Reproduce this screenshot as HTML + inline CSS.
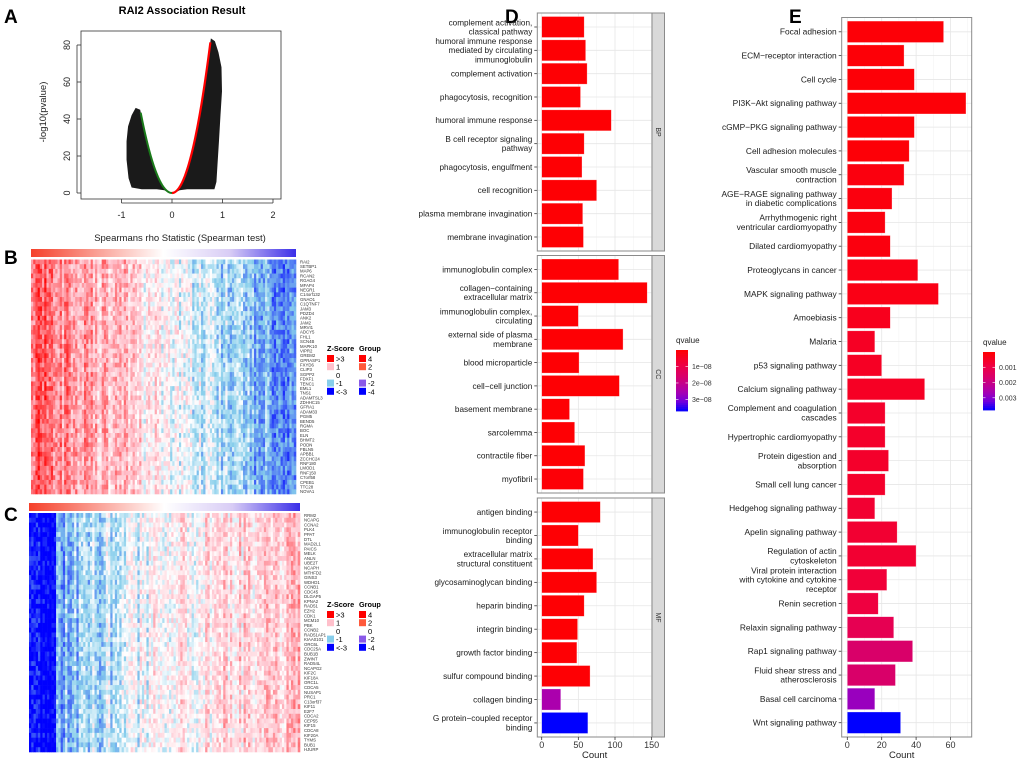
<!DOCTYPE html>
<html><head><meta charset="utf-8">
<style>
html,body{margin:0;padding:0;background:#fff;}
svg{display:block;font-family:"Liberation Sans",sans-serif;}
</style></head>
<body>
<svg id="fig" width="1020" height="761" viewBox="0 0 1020 761" xmlns="http://www.w3.org/2000/svg">
<g id="panelA">
  <text x="4" y="23" font-size="19" font-weight="bold">A</text>
  <text x="182" y="14" font-size="11" font-weight="bold" text-anchor="middle">RAI2 Association Result</text>
  <rect x="81" y="31" width="200" height="168" fill="none" stroke="#333" stroke-width="0.8"/>
  <g id="volcano"></g>
  <g id="volcanoAxes" font-size="9" fill="#222"></g>
  <text x="180" y="241" font-size="9.5" text-anchor="middle" fill="#222">Spearmans rho Statistic (Spearman test)</text>
  <text transform="translate(46,112) rotate(-90)" font-size="9.5" text-anchor="middle" fill="#222">-log10(pvalue)</text>
</g>
<g id="panelB">
  <text x="4" y="264" font-size="19" font-weight="bold">B</text>
</g>
<g id="panelC">
  <text x="4" y="521" font-size="19" font-weight="bold">C</text>
</g>
<g id="panelD">
  <text x="505" y="23" font-size="19" font-weight="bold">D</text>
</g>
<g id="panelE">
  <text x="789" y="23" font-size="19" font-weight="bold">E</text>
</g>
</svg>
<script>
var NS='http://www.w3.org/2000/svg';
// ---- Panel D data ----
var bpTerms=["complement activation,\nclassical pathway","humoral immune response\nmediated by circulating\nimmunoglobulin","complement activation","phagocytosis, recognition","humoral immune response","B cell receptor signaling\npathway","phagocytosis, engulfment","cell recognition","plasma membrane invagination","membrane invagination"];
var bpCounts=[58,60,62,53,95,58,55,75,56,57];
var bpQ=[0.05e-8,0.05e-8,0.05e-8,0.05e-8,0.05e-8,0.05e-8,0.05e-8,0.05e-8,0.05e-8,0.05e-8];
var ccTerms=["immunoglobulin complex","collagen\u2212containing\nextracellular matrix","immunoglobulin complex,\ncirculating","external side of plasma\nmembrane","blood microparticle","cell\u2212cell junction","basement membrane","sarcolemma","contractile fiber","myofibril"];
var ccCounts=[105,144,50,111,51,106,38,45,59,57];
var ccQ=[0.05e-8,0.05e-8,0.05e-8,0.05e-8,0.05e-8,0.05e-8,0.05e-8,0.05e-8,0.05e-8,0.1e-8];
var mfTerms=["antigen binding","immunoglobulin receptor\nbinding","extracellular matrix\nstructural constituent","glycosaminoglycan binding","heparin binding","integrin binding","growth factor binding","sulfur compound binding","collagen binding","G protein\u2212coupled receptor\nbinding"];
var mfCounts=[80,50,70,75,58,49,48,66,26,63];
var mfQ=[0.05e-8,0.05e-8,0.05e-8,0.05e-8,0.05e-8,0.05e-8,0.05e-8,0.05e-8,2.5e-8,3.7e-8];
var dTicks=[0,50,100,150];
var dLegendTicks=[1e-8,2e-8,3e-8];
var dLegendLabels=["1e\u221208","2e\u221208","3e\u221208"];
// ---- Panel E data ----
var keggTerms=["Focal adhesion","ECM\u2212receptor interaction","Cell cycle","PI3K\u2212Akt signaling pathway","cGMP\u2212PKG signaling pathway","Cell adhesion molecules","Vascular smooth muscle\ncontraction","AGE\u2212RAGE signaling pathway\nin diabetic complications","Arrhythmogenic right\nventricular cardiomyopathy","Dilated cardiomyopathy","Proteoglycans in cancer","MAPK signaling pathway","Amoebiasis","Malaria","p53 signaling pathway","Calcium signaling pathway","Complement and coagulation\ncascades","Hypertrophic cardiomyopathy","Protein digestion and\nabsorption","Small cell lung cancer","Hedgehog signaling pathway","Apelin signaling pathway","Regulation of actin\ncytoskeleton","Viral protein interaction\nwith cytokine and cytokine\nreceptor","Renin secretion","Relaxin signaling pathway","Rap1 signaling pathway","Fluid shear stress and\natherosclerosis","Basal cell carcinoma","Wnt signaling pathway"];
var keggCounts=[56,33,39,69,39,36,33,26,22,25,41,53,25,16,20,45,22,22,24,22,16,29,40,23,18,27,38,28,16,31];
var keggQ=[0.0001,0.0001,0.0001,0.0001,0.0001,0.0001,0.0002,0.0002,0.0002,0.0002,0.0003,0.0003,0.0004,0.0005,0.0005,0.0005,0.0006,0.0006,0.0006,0.0006,0.0007,0.0007,0.0007,0.0008,0.0009,0.0012,0.0016,0.0016,0.0028,0.0038];
var eTicks=[0,20,40,60];
var eLegendTicks=[0.001,0.002,0.003];
var eLegendLabels=["0.001","0.002","0.003"];
// ---- Panel B / C gene labels ----
var genesB=["RAI2","SETBP1","MAP6","RCAN2","RGAG4","MFAP4","NEGR1","C14orf132","GNAO1","C1QTNF7","JAM3","PDZD4","ANK2","JAM2","MRVI1","ADCY5","FHL1","SCN4B","MAPK10","VIPR2","GREM2","GPRASP1","FXYD6","CLIP3","SGPP2","FDXF1","TENC1","EML1","TNS1","ADAMTSL3","ZDHHC15","GFRA1","ADAM33","PGM5","BEND5","RGMA","BOC","ELN","BHMT2","PODN","FBLN5","APBB1","ZCCHC24","RNF180","LMOD1","RNF150","C7orf58","CPEB1","TTC28","NOVA1"];
var genesC=["RRM2","NCAPG","CCNA2","PLK4","PPAT","DTL","MAD2L1","PAICS","MELK","ANLN","UBE2T","NCAPH","MTHFD2","GINS3","WDHD1","CCNB1","CDC45","DLGAP5","KPNA2","RAD51","EZH2","CDK1","MCM10","PBK","CCNB2","RAD51AP1","KIAA0101","ORC6L","CDC25A","BUB1B","ZWINT","RAD54L","NCAPG2","KIF2C","KIF18A","ORC1L","CDCA5","NUSAP1","PRC1","C13orf37","KIF11","E2F7","CDCA2","CEP55","KIF15","CDCA8","KIF20A","TYMS","BUB1","HJURP"];

function el(tag,attrs,parent,txt){var e=document.createElementNS(NS,tag);for(var k in attrs)e.setAttribute(k,attrs[k]);if(txt!==undefined)e.textContent=txt;parent.appendChild(e);return e;}
function hex(c){return [parseInt(c.substr(1,2),16),parseInt(c.substr(3,2),16),parseInt(c.substr(5,2),16)];}
function mix(a,b,t){var A=hex(a),B=hex(b);return 'rgb('+Math.round(A[0]+(B[0]-A[0])*t)+','+Math.round(A[1]+(B[1]-A[1])*t)+','+Math.round(A[2]+(B[2]-A[2])*t)+')';}
var qStops=[[0,'#ff0000'],[0.25,'#ee0044'],[0.45,'#d6006f'],[0.7,'#a600b4'],[0.85,'#7000dc'],[1,'#0000ff']];
function qColor(t){t=Math.max(0,Math.min(1,t));for(var i=1;i<qStops.length;i++){if(t<=qStops[i][0]){var a=qStops[i-1],b=qStops[i];return mix(a[1],b[1],(t-a[0])/(b[0]-a[0]));}}return '#0000ff';}

// ---- Volcano ----
(function(){
  var g=document.getElementById('volcano'),ax=document.getElementById('volcanoAxes');
  function X(v){return 172+v*50.5;} function Y(v){return 193-v*1.85;}
  var right=[[0.05,0],[0.2,5.6],[0.4,22.6],[0.6,50.8],[0.77,83.6],[0.85,82],[0.92,76],[0.98,68],[0.99,55],[0.96,42],[0.93,28],[0.9,15],[0.88,6],[0.84,2],[0.6,2],[0.3,2],[0.15,1.5]];
  var left=[[-0.05,0],[-0.2,4.5],[-0.4,18],[-0.55,34],[-0.63,45],[-0.72,46],[-0.8,42],[-0.87,36],[-0.9,28],[-0.9,18],[-0.86,8],[-0.8,3],[-0.6,2],[-0.3,2],[-0.15,1.5]];
  [right,left].forEach(function(p,i){
    var s=el('polygon',{points:p.map(function(q){return X(q[0])+','+Y(q[1]);}).join(' '),fill:'#1a1a1a'},g);
    
    
  });
  var dr='',dg='';
  for(var v=0;v<=0.77;v+=0.02){dr+=(dr?'L':'M')+X(v)+','+Y(v*v*141);}
  for(var w=0;w>=-0.63;w-=0.02){dg+=(dg?'L':'M')+X(w)+','+Y(w*w*113);}
  var r=el('path',{d:dr,stroke:'#ff0000','stroke-width':2.2,fill:'none'},g);
  
  
  var gg=el('path',{d:dg,stroke:'#1a7a1a','stroke-width':2,fill:'none'},g);
  
  
  [-1,0,1,2].forEach(function(t){
    el('line',{x1:X(t),x2:X(t),y1:199,y2:203,stroke:'#333','stroke-width':0.8},ax);
    var tx=el('text',{x:X(t),y:218,'text-anchor':'middle'},ax,String(t));
    
    
  });
  el('line',{x1:X(-1),x2:X(2),y1:203,y2:203,stroke:'#333','stroke-width':0.8},ax);
  [0,20,40,60,80].forEach(function(t){
    el('line',{x1:77,x2:81,y1:Y(t),y2:Y(t),stroke:'#333','stroke-width':0.8},ax);
    var tx=el('text',{transform:'translate(70,'+Y(t)+') rotate(-90)','text-anchor':'middle'},ax,String(t));
    
    
  });
  el('line',{x1:77,x2:77,y1:Y(0),y2:Y(80),stroke:'#333','stroke-width':0.8},ax);
})();

// ---- Heatmaps ----
function hash(a,b,s){var h=(a*374761393+b*668265263+s*2147483647)|0;h=(h^(h>>>13))*1274126177|0;h=h^(h>>>16);return ((h>>>0)%10000)/10000;}
function zColor(z){
  if(z>=0){ if(z<1) return mix('#ffffff','#ffc0cb',z); return mix('#ffc0cb','#ff0000',Math.min(1,(z-1)/2)); }
  z=-z; if(z<1) return mix('#ffffff','#87ceeb',z); return mix('#87ceeb','#0000ff',Math.min(1,(z-1)/2));
}
function heatmap(parentId,x0,x1,barY,y0,y1,genes,profile,seed,legY,nameKey){
  var p=document.getElementById(parentId);
  var grad=el('linearGradient',{id:'grp'+seed,x1:0,x2:1,y1:0,y2:0},p);
  el('stop',{offset:'0',  'stop-color':'#f5402a'},grad);
  el('stop',{offset:'0.5','stop-color':'#ffffff'},grad);
  el('stop',{offset:'0.75','stop-color':'#d8ccf5'},grad);
  el('stop',{offset:'1','stop-color':'#3a2ee8'},grad);
  var gb=el('rect',{x:x0,y:barY,width:x1-x0,height:8,fill:'url(#grp'+seed+')'},p);
  
  
  var cells=el('g',{},p);
  
  
  var nc=120,nr=genes.length,cw=(x1-x0)/nc,rh=(y1-y0)/nr;
  for(var c=0;c<nc;c++){
    var base=profile(c/(nc-1));
    var colOff=(hash(c,999,seed)-0.5)*1.6;
    for(var r=0;r<nr;r++){
      var z=base+colOff*0.7+(hash(c,r,seed)-0.5)*1.3;
      el('rect',{x:(x0+c*cw).toFixed(2),y:(y0+r*rh).toFixed(2),width:(cw+0.3).toFixed(2),height:(rh+0.3).toFixed(2),fill:zColor(z)},cells);
    }
  }
  var lab=el('g',{'font-size':4.3,fill:'#333'},p);
  
  
  genes.forEach(function(gn,i){
    var t=el('text',{x:x1+4,y:(y0+(i+0.5)*rh+1.5).toFixed(2)},lab,gn);
    
    
  });
  var lg=el('g',{'font-size':7.5},p);
  
  
  el('text',{x:327,y:legY,'font-weight':'bold','font-size':7.3},lg,'Z-Score');
  el('text',{x:359,y:legY,'font-weight':'bold','font-size':7.3},lg,'Group');
  var zc=['#ff0000','#ffc0cb',null,'#87ceeb','#0000ff'],zl=['>3','1','0','-1','<-3'];
  var gc=['#ff0000','#ff5a3c',null,'#8a5ae8','#0000ff'],gl=['4','2','0','-2','-4'];
  for(var i=0;i<5;i++){
    var yy=legY+4+i*8.2;
    if(zc[i])el('rect',{x:327,y:yy,width:7,height:7,fill:zc[i]},lg);
    el('text',{x:336,y:yy+6.5},lg,zl[i]);
    if(gc[i])el('rect',{x:359,y:yy,width:7,height:7,fill:gc[i]},lg);
    el('text',{x:368,y:yy+6.5},lg,gl[i]);
  }
}
heatmap('panelB',31,296,249,259.5,494,genesB,function(t){return t<0.5?2.0-3.6*t:(0.2-2.6*(t-0.5)*1.5);},7,351,'heatmap-b');
heatmap('panelC',29,300,503,513,752,genesC,function(t){return t<0.1?-3:(t<0.45?-1.2+1.2*(t-0.1)/0.35:0.1+1.5*(t-0.45));},13,607,'heatmap-c');

// ---- Bar chart helper ----
function barPanel(parent,terms,counts,qs,qmax,top,bottom,left,right,x0,scale,gridMajor,gridMinor,labelSize,nameKey){
  var n=terms.length,slot=(bottom-top)/(n+0.2);
  el('rect',{x:left,y:top,width:right-left,height:bottom-top,fill:'#fff'},parent);
  gridMinor.forEach(function(v){el('line',{x1:x0+v*scale,x2:x0+v*scale,y1:top,y2:bottom,stroke:'#f2f2f2','stroke-width':0.5},parent);});
  gridMajor.forEach(function(v){el('line',{x1:x0+v*scale,x2:x0+v*scale,y1:top,y2:bottom,stroke:'#e6e6e6','stroke-width':0.8},parent);});
  for(var i=0;i<n;i++){
    var cy=top+(0.6+i)*slot;
    el('line',{x1:left,x2:right,y1:cy,y2:cy,stroke:'#e6e6e6','stroke-width':0.8},parent);
  }
  for(var i=0;i<n;i++){
    var cy=top+(0.6+i)*slot,h=slot*0.9;
    var b=el('rect',{x:x0,y:cy-h/2,width:counts[i]*scale,height:h,fill:qColor(qs[i]/qmax),stroke:'#ffffff','stroke-opacity':0.5,'stroke-width':0.6},parent);
    
    
    el('line',{x1:left-3,x2:left,y1:cy,y2:cy,stroke:'#333','stroke-width':0.8},parent);
    var lines=terms[i].split('\n'),lh=labelSize*1.12;
    var t=el('text',{'font-size':labelSize,'text-anchor':'end',fill:'#1a1a1a'},parent);
    
    
    lines.forEach(function(L,k){el('tspan',{x:left-5,y:(cy-(lines.length-1)*lh/2+k*lh+labelSize*0.35).toFixed(2)},t,L);});
  }
  el('rect',{x:left,y:top,width:right-left,height:bottom-top,fill:'none',stroke:'#8a8a8a','stroke-width':1},parent);
}
function legend(p,x,ty,y0,y1,ticks,labels,qmax,name){
  var g=el('g',{},p);
  
  
  el('text',{x:x,y:ty,'font-size':8,fill:'#222'},g,'qvalue');
  var n=30,h=(y1-y0)/n;
  for(var i=0;i<n;i++){el('rect',{x:x,y:y0+i*h,width:12,height:h+0.4,fill:qColor((i+0.5)/n)},g);}
  ticks.forEach(function(v,i){
    var yy=y0+(v/qmax)*(y1-y0);
    el('line',{x1:x,x2:x+2.5,y1:yy,y2:yy,stroke:'#fff','stroke-width':0.6},g);
    el('line',{x1:x+9.5,x2:x+12,y1:yy,y2:yy,stroke:'#fff','stroke-width':0.6},g);
    el('text',{x:x+16,y:yy+2.5,'font-size':7,fill:'#333'},g,labels[i]);
  });
}
// ---- Panel D ----
(function(){
  var p=document.getElementById('panelD');
  var left=537.3,right=652,x0=541.7,sc=0.733,qmax=3.7e-8;
  var facets=[[bpTerms,bpCounts,bpQ,13,251,'BP'],[ccTerms,ccCounts,ccQ,255.5,493,'CC'],[mfTerms,mfCounts,mfQ,498,737,'MF']];
  facets.forEach(function(f){
    barPanel(p,f[0],f[1],f[2],qmax,f[3],f[4],left,right,x0,sc,dTicks,[25,75,125],8.2,'go-'+f[5].toLowerCase());
    var s=el('rect',{x:right,y:f[3],width:12.5,height:f[4]-f[3],fill:'#d9d9d9',stroke:'#8a8a8a','stroke-width':1},p);
    
    
    var st=el('text',{transform:'translate('+(right+4)+','+((f[3]+f[4])/2)+') rotate(90)','font-size':7,'text-anchor':'middle',fill:'#333'},p,f[5]);
    
    
  });
  dTicks.forEach(function(v){
    el('line',{x1:x0+v*sc,x2:x0+v*sc,y1:737,y2:740,stroke:'#333','stroke-width':0.8},p);
    var t=el('text',{x:x0+v*sc,y:748,'font-size':9,'text-anchor':'middle',fill:'#333'},p,String(v));
    
    
  });
  var xt=el('text',{x:(left+right)/2,y:758,'font-size':9.5,'text-anchor':'middle',fill:'#222'},p,'Count');
  
  
  legend(p,676,343,350,411,dLegendTicks,dLegendLabels,qmax,'go-qvalue-legend');
})();
// ---- Panel E ----
(function(){
  var p=document.getElementById('panelE');
  var left=841.7,right=971.7,x0=847.3,sc=1.72,qmax=0.0038;
  barPanel(p,keggTerms,keggCounts,keggQ,qmax,17.5,737,left,right,x0,sc,eTicks,[10,30,50,70],8.4,'kegg');
  eTicks.forEach(function(v){
    el('line',{x1:x0+v*sc,x2:x0+v*sc,y1:737,y2:740,stroke:'#333','stroke-width':0.8},p);
    var t=el('text',{x:x0+v*sc,y:748,'font-size':9,'text-anchor':'middle',fill:'#333'},p,String(v));
    
    
  });
  var xt=el('text',{x:(left+right)/2-5,y:758,'font-size':9.5,'text-anchor':'middle',fill:'#222'},p,'Count');
  
  
  legend(p,983,345,352,410,eLegendTicks,eLegendLabels,qmax,'kegg-qvalue-legend');
})();
</script>
</body></html>
